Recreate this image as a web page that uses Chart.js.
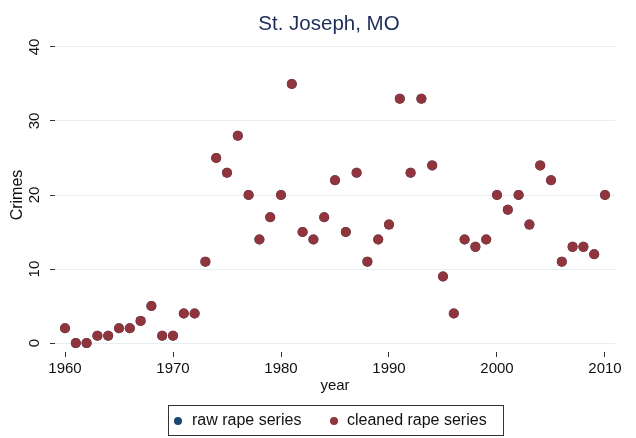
<!DOCTYPE html>
<html>
<head>
<meta charset="utf-8">
<script src="https://cdn.jsdelivr.net/npm/chart.js@4/dist/chart.umd.min.js"></script>
<style>
  html, body { margin: 0; padding: 0; background: #ffffff; }
  #wrap { width: 636px; height: 438px; }
</style>
</head>
<body>
<div id="wrap"><canvas id="c" width="636" height="438"></canvas></div>
<script>
const chartTitle = "St. Joseph, MO";
const xAxisTitle = "year";
const yAxisTitle = "Crimes";
const seriesNames = ["raw rape series", "cleaned rape series"];
const years = [1960,1961,1962,1963,1964,1965,1966,1967,1968,1969,1970,1971,1972,1973,1974,1975,1976,1977,1978,1979,1980,1981,1982,1983,1984,1985,1986,1987,1988,1989,1990,1991,1992,1993,1994,1995,1996,1997,1998,1999,2000,2001,2002,2003,2004,2005,2006,2007,2008,2009,2010];
const rawRape =     [2,0,0,1,1,2,2,3,5,1,1,4,4,11,25,23,28,20,14,17,20,35,15,14,17,22,15,23,11,14,16,33,23,33,24,9,4,14,13,14,20,18,20,16,24,22,11,13,13,12,20];
const cleanedRape = [2,0,0,1,1,2,2,3,5,1,1,4,4,11,25,23,28,20,14,17,20,35,15,14,17,22,15,23,11,14,16,33,23,33,24,9,4,14,13,14,20,18,20,16,24,22,11,13,13,12,20];
const xTicks = [1960, 1970, 1980, 1990, 2000, 2010];
const yTicks = [0, 10, 20, 30, 40];

const colors = { raw: "#1a476f", cleaned: "#90353b", title: "#1e2c5a", grid: "#e6eef0", text: "#111111" };
const FONT = "'Liberation Sans', Arial, Helvetica, sans-serif";

const toPts = (ys) => years.map((y, i) => ({ x: y, y: ys[i] }));

const decor = {
  id: "decor",
  afterDraw(chart) {
    const ctx = chart.ctx;
    ctx.save();
    // Title
    ctx.fillStyle = colors.title;
    ctx.font = "20.5px " + FONT;
    ctx.textAlign = "center";
    ctx.textBaseline = "alphabetic";
    ctx.fillText(chartTitle, 329, 30);
    // Legend box
    ctx.strokeStyle = "#333333";
    ctx.lineWidth = 1;
    ctx.strokeRect(168.5, 405.5, 335, 30);
    const items = [
      { label: seriesNames[0], color: colors.raw, dx: 178, tx: 192 },
      { label: seriesNames[1], color: colors.cleaned, dx: 334, tx: 347 }
    ];
    ctx.font = "16px " + FONT;
    ctx.textAlign = "left";
    ctx.textBaseline = "middle";
    items.forEach(it => {
      ctx.fillStyle = it.color;
      ctx.beginPath();
      ctx.arc(it.dx, 421, 4, 0, Math.PI * 2);
      ctx.fill();
      ctx.fillStyle = colors.text;
      ctx.fillText(it.label, it.tx, 421);
    });
    ctx.restore();
  }
};

new Chart(document.getElementById("c"), {
  type: "scatter",
  data: {
    datasets: [
      { label: seriesNames[0], data: toPts(rawRape), backgroundColor: colors.raw, borderColor: colors.raw, pointRadius: 5, borderWidth: 0, order: 2 },
      { label: seriesNames[1], data: toPts(cleanedRape), backgroundColor: colors.cleaned, borderColor: colors.cleaned, pointRadius: 5, borderWidth: 0, order: 1 }
    ]
  },
  options: {
    responsive: false,
    animation: false,
    layout: { padding: { left: 0, right: 21, top: 38, bottom: 41 } },
    plugins: { legend: { display: false }, title: { display: false }, tooltip: { enabled: false } },
    scales: {
      x: {
        type: "linear",
        min: 1959.074,
        max: 2010.926,
        afterBuildTicks: (s) => { s.ticks = xTicks.map(v => ({ value: v })); },
        afterFit: (s) => { s.height = 45; },
        border: { display: false },
        grid: { drawOnChartArea: false, drawTicks: true, tickLength: 5, tickColor: "#333333", tickWidth: 1 },
        ticks: { color: colors.text, font: { family: FONT, size: 15 }, padding: 3, maxRotation: 0, callback: (v) => String(v) },
        title: { display: true, text: xAxisTitle, color: colors.text, font: { family: FONT, size: 15 }, padding: { top: 0, bottom: 2 } }
      },
      y: {
        type: "linear",
        min: -1.2,
        max: 41.2,
        afterBuildTicks: (s) => { s.ticks = yTicks.map(v => ({ value: v })); },
        afterFit: (s) => { s.width = 55; },
        border: { display: false },
        grid: { color: colors.grid, lineWidth: 1, drawTicks: true, tickLength: 5, tickColor: "#333333", tickWidth: 1 },
        ticks: { color: colors.text, font: { family: FONT, size: 15 }, padding: 7, minRotation: 90, maxRotation: 90, crossAlign: "center", callback: (v) => String(v) },
        title: { display: true, text: yAxisTitle, color: colors.text, font: { family: FONT, size: 16 }, padding: { top: 8, bottom: 0 } }
      }
    }
  },
  plugins: [decor]
});
</script>
</body>
</html>
